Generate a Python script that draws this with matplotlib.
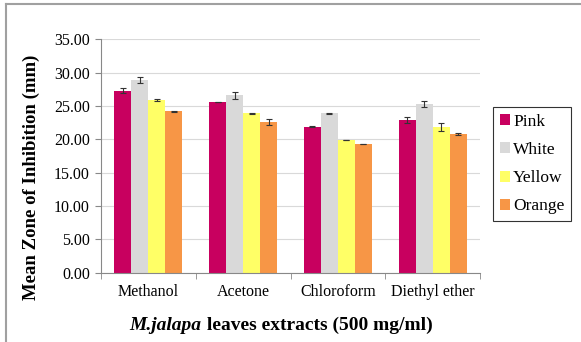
import numpy as np
import matplotlib.pyplot as plt
from matplotlib.offsetbox import TextArea, HPacker, AnchoredOffsetbox
from matplotlib.lines import Line2D

plt.rcParams['font.family'] = ['Liberation Serif', 'DejaVu Serif']

solvents = ['Methanol', 'Acetone', 'Chloroform', 'Diethyl ether']
flowers = ['Pink', 'White', 'Yellow', 'Orange']
means = {
    'Pink': [27.3, 25.6, 21.9, 22.9],
    'White': [28.9, 26.6, 23.9, 25.3],
    'Yellow': [25.9, 23.9, 19.9, 21.9],
    'Orange': [24.2, 22.6, 19.3, 20.8],
}
errs = {
    'Pink': [0.4, 0.05, 0.05, 0.5],
    'White': [0.4, 0.5, 0.05, 0.5],
    'Yellow': [0.1, 0.1, 0.05, 0.6],
    'Orange': [0.05, 0.4, 0.05, 0.1],
}
colors = {'Pink': '#C8005F', 'White': '#D9D9D9', 'Yellow': '#FFFF66', 'Orange': '#F79646'}

W, H = 581, 342
fig = plt.figure(figsize=(W / 100, H / 100), dpi=100)
ax = fig.add_axes([101 / W, (H - 272.7) / H, (480 - 101) / W, (272.7 - 39.3) / H])

x = np.arange(len(solvents))
w = 0.18
for i, f in enumerate(flowers):
    ax.bar(x + (i - 1.5) * w, means[f], w, color=colors[f], label=f, zorder=2)
    ax.errorbar(x + (i - 1.5) * w, means[f], yerr=errs[f], fmt='none',
                ecolor='#333333', elinewidth=0.8, capsize=2, capthick=0.8, zorder=3)

ax.set_xlim(-0.5, 3.5)
ax.set_ylim(0, 35)
ax.set_yticks(np.arange(0, 36, 5))
ax.set_yticklabels([f'{v:.2f}' for v in np.arange(0, 36, 5)], fontsize=11.5)
ax.set_xticks(x)
ax.set_xticklabels(solvents, fontsize=11.5)
ax.set_xticks(np.arange(-0.5, 4, 1), minor=True)
ax.tick_params(axis='x', which='major', length=0, pad=8)
ax.tick_params(axis='x', which='minor', length=4, color='#888888')
ax.tick_params(axis='y', length=4, color='#888888', pad=4)
ax.grid(axis='y', color='#D9D9D9', lw=0.8, zorder=0)
ax.set_axisbelow(True)
for s in ['top', 'right']:
    ax.spines[s].set_visible(False)
for s in ['left', 'bottom']:
    ax.spines[s].set_color('#888888')
    ax.spines[s].set_linewidth(0.8)

fig.text(31 / W, 1 - 177 / H, 'Mean Zone of Inhibition (mm)', rotation=90,
         ha='center', va='center', fontsize=13.5, fontweight='bold')

t1 = TextArea('M.jalapa', textprops=dict(fontsize=14, fontweight='bold', style='italic'))
t2 = TextArea(' leaves extracts (500 mg/ml)', textprops=dict(fontsize=14, fontweight='bold'))
box = HPacker(children=[t1, t2], align='baseline', pad=0, sep=0)
anch = AnchoredOffsetbox(loc='center', child=box, frameon=False,
                         bbox_to_anchor=(281 / W, 1 - 325 / H),
                         bbox_transform=fig.transFigure, borderpad=0, pad=0)
fig.add_artist(anch)

leg = fig.legend(loc='upper left', bbox_to_anchor=(493 / W, 1 - 107 / H),
                 fontsize=12.5, frameon=True, fancybox=False, edgecolor='black',
                 handlelength=0.6, handleheight=0.6, handletextpad=0.15,
                 labelspacing=0.7, borderpad=0.4, borderaxespad=0)
leg.get_frame().set_linewidth(0.8)

fig.add_artist(Line2D([6 / W, 1], [1 - 4 / H, 1 - 4 / H], transform=fig.transFigure,
                      color='#A0A0A0', lw=1.5))
fig.add_artist(Line2D([6 / W, 6 / W], [0, 1 - 4 / H], transform=fig.transFigure,
                      color='#A0A0A0', lw=1.5))

fig.savefig('out.png', dpi=100)
